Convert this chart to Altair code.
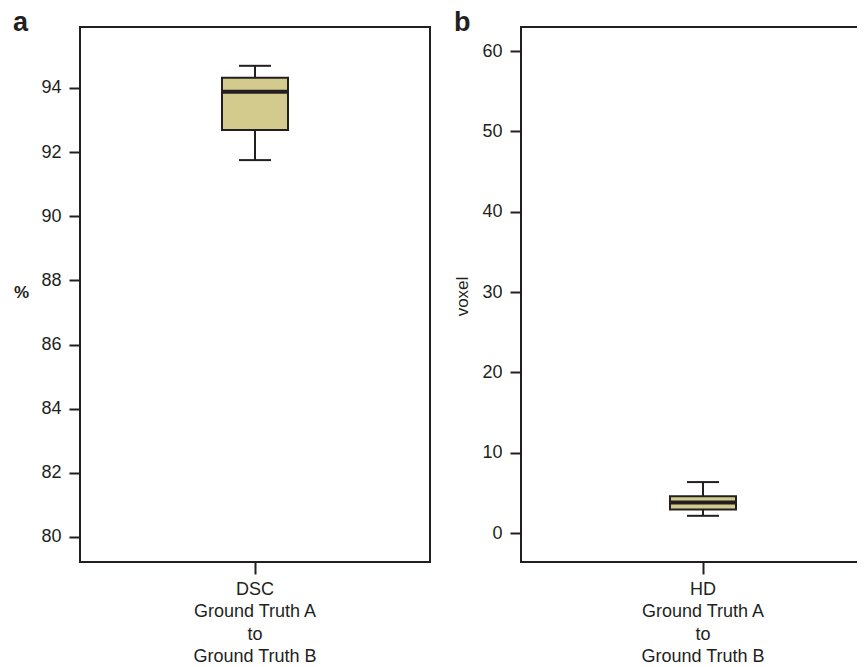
import altair as alt
import pandas as pd

# ---- data ----
panel_letters = ["a", "b"]
axis_titles = ["%", "voxel"]
x_label_lines = [["DSC", "Ground Truth A", "to", "Ground Truth B"],
                 ["HD", "Ground Truth A", "to", "Ground Truth B"]]
stat_min = [91.75, 2.15]
stat_q1 = [92.69, 2.95]
stat_median = [93.88, 3.82]
stat_q3 = [94.32, 4.60]
stat_max = [94.69, 6.35]
y_domains = [[79.22, 95.9], [-3.6, 63.0]]
y_ticks = [[80, 82, 84, 86, 88, 90, 92, 94], [0, 10, 20, 30, 40, 50, 60]]

INK = "#231f20"
FILL = "#d3ca8e"
FONT = "Liberation Sans"
widths = [350, 364]
H = 535


def panel(i):
    df = pd.DataFrame({
        "cat": ["|".join(x_label_lines[i])],
        "lo": [stat_min[i]], "q1": [stat_q1[i]], "med": [stat_median[i]],
        "q3": [stat_q3[i]], "hi": [stat_max[i]],
    })
    xenc = alt.X("cat:N", title=None,
                 axis=alt.Axis(labelExpr="split(datum.label, '|')", labelAngle=0,
                               labelFontSize=18, labelLineHeight=22.5, labelPadding=6,
                               labelColor=INK, labelFont=FONT, tickSize=12, tickWidth=2,
                               tickColor=INK, domain=False))
    bold = i == 0
    yscale = alt.Scale(domain=y_domains[i], nice=False, zero=False)
    yaxis = alt.Axis(values=y_ticks[i], tickSize=11, tickWidth=2, tickColor=INK,
                     labelFontSize=18, labelPadding=8, labelColor=INK, labelFont=FONT,
                     domain=False, grid=False,
                     title=axis_titles[i], titleFont=FONT, titleFontSize=17,
                     titleFontWeight="bold" if bold else "normal", titleColor=INK,
                     titleAngle=0 if bold else 270, titleX=-59,
                     titleY=265 if bold else 269, titleAlign="center",
                     titleBaseline="middle")
    base = alt.Chart(df)
    whisker = base.mark_rule(color=INK, strokeWidth=2).encode(
        x=xenc, y=alt.Y("lo:Q", scale=yscale, axis=yaxis), y2="hi:Q")
    box = base.mark_bar(size=66, fill=FILL, stroke=INK, strokeWidth=2).encode(
        x="cat:N", y="q1:Q", y2="q3:Q")
    med = base.mark_tick(size=66, thickness=4, color=INK, opacity=1).encode(
        x="cat:N", y="med:Q")
    cap_lo = base.mark_tick(size=32, thickness=2, color=INK, opacity=1).encode(
        x="cat:N", y="lo:Q")
    cap_hi = base.mark_tick(size=32, thickness=2, color=INK, opacity=1).encode(
        x="cat:N", y="hi:Q")
    letter = base.mark_text(align="left", baseline="alphabetic", fontSize=27,
                            fontWeight="bold", font=FONT, color=INK).encode(
        x=alt.value(-67), y=alt.value(4), text=alt.value(panel_letters[i]))
    return alt.layer(whisker, box, med, cap_lo, cap_hi, letter).properties(
        width=widths[i], height=H)


chart = alt.hconcat(panel(0), panel(1), spacing=91, bounds="flush").properties(
    padding={"left": 4, "top": 0, "right": -29, "bottom": 0}
).configure_view(stroke=INK, strokeWidth=2)

chart.save("out.html", embed_options={"renderer": "svg", "actions": False})
